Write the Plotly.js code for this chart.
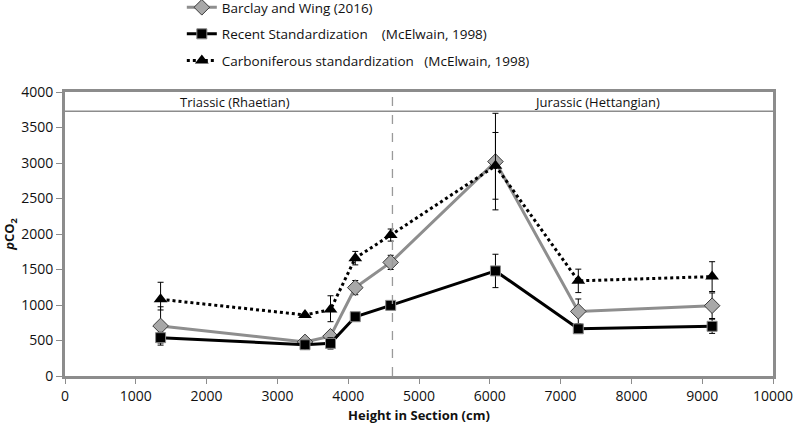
<!DOCTYPE html>
<html>
<head>
<meta charset="utf-8">
<script src="https://cdn.plot.ly/plotly-3.0.1.min.js"></script>
<style>html,body{margin:0;padding:0;background:#fff;}#chart{width:793px;height:428px;}</style>
</head>
<body>
<div id="chart"></div>
<script>
// Heights in section (cm)
const heights = [1350, 3390, 3750, 4100, 4600, 6080, 7250, 9140];

// Barclay and Wing (2016)
const barclay = [705, 480, 560, 1245, 1600, 3020, 910, 990];
const barclayErrPlus = [270, 20, 40, 100, 100, 680, 175, 180];
const barclayErrMinus = [270, 20, 40, 100, 100, 680, 175, 180];

// Recent Standardization (McElwain, 1998)
const recent = [540, 440, 460, 835, 995, 1480, 665, 700];
const recentErrPlus = [75, 20, 80, 30, 30, 235, 50, 100];
const recentErrMinus = [75, 20, 80, 30, 30, 235, 50, 100];

// Carboniferous standardization (McElwain, 1998)
const carb = [1080, 860, 935, 1660, 1985, 2960, 1340, 1400];
const carbErrPlus = [240, 20, 195, 95, 85, 470, 165, 210];
const carbErrMinus = [150, 20, 170, 95, 85, 470, 165, 210];

const seriesNames = [
  "Barclay and Wing (2016)",
  "Recent Standardization\u00a0\u00a0\u00a0\u00a0(McElwain, 1998)",
  "Carboniferous standardization\u00a0\u00a0\u00a0(McElwain, 1998)"
];

const xTicks = [0, 1000, 2000, 3000, 4000, 5000, 6000, 7000, 8000, 9000, 10000];
const yTicks = [0, 500, 1000, 1500, 2000, 2500, 3000, 3500, 4000];
const boundaryHeight = 4625;
const headerLevel = 3730;
const periodLabels = ["Triassic (Rhaetian)", "Jurassic (Hettangian)"];
const periodLabelX = [2400, 7520];

const errStyle = {color: "#000", thickness: 1, width: 3};

const traces = [
  {
    x: heights, y: barclay, name: seriesNames[0], type: "scatter", mode: "lines+markers",
    legendgroup: "a",
    line: {color: "#8e8e8e", width: 3},
    marker: {symbol: "diamond", size: 12, color: "#a8a8a8", line: {color: "#3a3a3a", width: 1}},
    error_y: Object.assign({type: "data", symmetric: false, array: barclayErrPlus, arrayminus: barclayErrMinus}, errStyle)
  },
  {
    x: heights, y: recent, name: seriesNames[1], type: "scatter", mode: "lines+markers",
    legendgroup: "b",
    line: {color: "#000", width: 3},
    marker: {symbol: "square", size: 10, color: "#000", line: {color: "#8a8a8a", width: 1}},
    error_y: Object.assign({type: "data", symmetric: false, array: recentErrPlus, arrayminus: recentErrMinus}, errStyle)
  },
  {
    x: heights, y: carb, name: seriesNames[2], type: "scatter", mode: "lines+markers",
    legendgroup: "c",
    line: {color: "#000", width: 3, dash: "dot"},
    marker: {symbol: "triangle-up", size: 12, color: "#000", line: {color: "#000", width: 0}},
    error_y: Object.assign({type: "data", symmetric: false, array: carbErrPlus, arrayminus: carbErrMinus}, errStyle)
  }
];

const font = "Open Sans, Noto Sans, sans-serif";

const layout = {
  width: 793, height: 428,
  margin: {l: 65, r: 20, t: 92, b: 52, autoexpand: false},
  paper_bgcolor: "#fff", plot_bgcolor: "#fff",
  font: {family: font, size: 13, color: "#111"},
  showlegend: true,
  legend: {
    x: 0.165, xanchor: "left", y: 1.352, yanchor: "top",
    bgcolor: "rgba(0,0,0,0)", font: {family: font, size: 13.5, color: "#111"},
    tracegroupgap: 6, itemwidth: 30
  },
  xaxis: {
    range: [0, 10000], tickvals: xTicks, ticktext: xTicks.map(String),
    showgrid: false, zeroline: false, ticklabeloverflow: "allow",
    showline: true, linecolor: "#8c8c8c", linewidth: 3, mirror: true,
    ticks: "outside", ticklen: 5, tickcolor: "#8c8c8c", tickwidth: 1,
    tickfont: {family: font, size: 14, color: "#111"},
    title: {text: "<b>Height in Section (cm)</b>", font: {family: font, size: 13, color: "#111"}, standoff: 8}
  },
  yaxis: {
    range: [0, 4000], tickvals: yTicks, ticktext: yTicks.map(String),
    showgrid: false, zeroline: false, ticklabeloverflow: "allow",
    showline: true, linecolor: "#8c8c8c", linewidth: 3, mirror: true,
    ticks: "outside", ticklen: 6, tickcolor: "#8c8c8c", tickwidth: 1,
    tickfont: {family: font, size: 14, color: "#111"},
    title: {text: "<b><i>p</i>CO<sub>2</sub></b>", font: {family: font, size: 13, color: "#111"}, standoff: 8}
  },
  shapes: [
    {type: "line", xref: "paper", yref: "y", x0: 0, x1: 1.004, y0: headerLevel, y1: headerLevel,
     line: {color: "#8c8c8c", width: 1.5}},
    {type: "line", xref: "x", yref: "paper", x0: boundaryHeight, x1: boundaryHeight, y0: 0, y1: 1,
     line: {color: "#9a9a9a", width: 1.3, dash: "dash"}}
  ],
  annotations: [
    {x: periodLabelX[0], y: (4000 + headerLevel) / 2, xref: "x", yref: "y", text: periodLabels[0],
     showarrow: false, font: {family: font, size: 13, color: "#111"}},
    {x: periodLabelX[1], y: (4000 + headerLevel) / 2, xref: "x", yref: "y", text: periodLabels[1],
     showarrow: false, font: {family: font, size: 13, color: "#111"}}
  ]
};

Plotly.newPlot("chart", traces, layout, {displayModeBar: false, staticPlot: true});
</script>
</body>
</html>
